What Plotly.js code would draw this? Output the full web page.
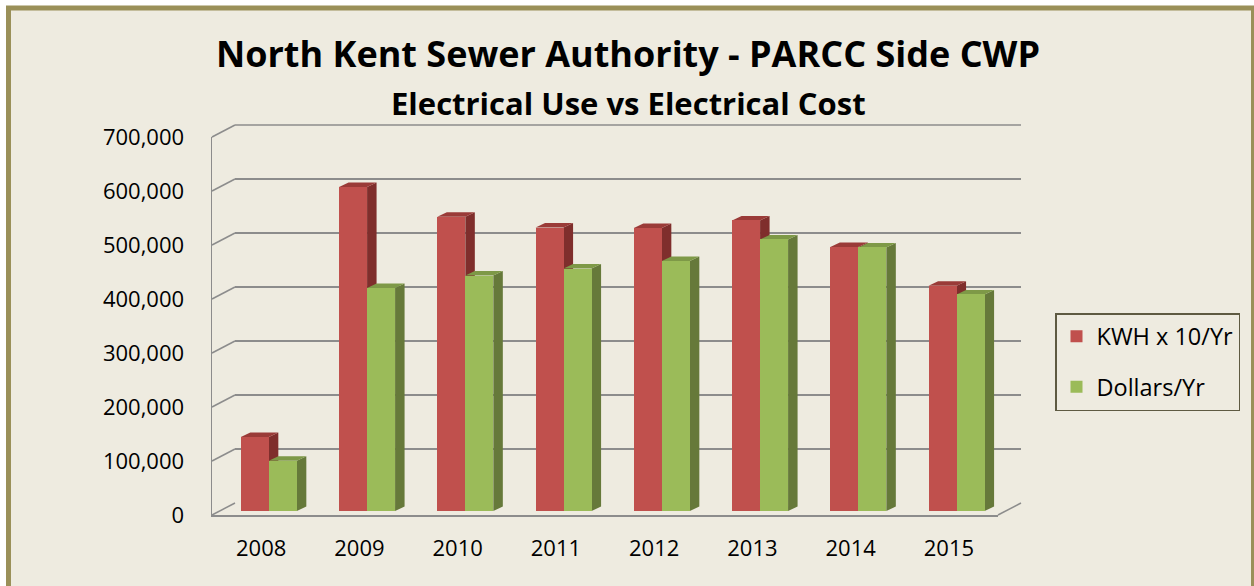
<!DOCTYPE html>
<html><head><meta charset="utf-8">
<script src="https://cdn.plot.ly/plotly-3.0.1.min.js"></script>
<style>html,body{margin:0;padding:0;background:#fff}</style>
</head><body><div id="chart" style="width:1254px;height:586px"></div>
<script>
// ---- data ----
const years = ['2008','2009','2010','2011','2012','2013','2014','2015'];
const kwhX10 = [137000, 600000, 545000, 525000, 524000, 538000, 489000, 417000];
const dollars = [93000, 413000, 436000, 449000, 463000, 503000, 488000, 401000];
const yTicks = [0,100000,200000,300000,400000,500000,600000,700000];
const seriesNames = ['KWH x 10/Yr','Dollars/Yr'];

// ---- geometry / style ----
const W=1254, H=586, L=212, R=233, T=125, B=71;
const PW=W-L-R, PH=H-T-B;
const depthX=23, depthY=12;
const frontW=PW-depthX, frontH=PH-depthY;
const barShiftX=7.7, barShiftY=4;
const yMax=700000;
const idx = years.map((_,i)=>i);
const unitX = years.length/frontW, unitY = yMax/frontH;
const barW = 0.285;
const sideDX = 9.5*unitX, sideDY = 4.5*unitY;
const grid='#8c8c8c';
const colors = {front:['#C0504D','#9BBB59'], side:['#7F2E2C','#66793A'], top:['#9A3B38','#7E9947']};
const txtFont = 'Open Sans, sans-serif';
const ttlFont = 'Open Sans, sans-serif';

const series=[kwhX10, dollars];
const shapes=[];
// frame
shapes.push({type:'rect', xref:'paper', yref:'paper', layer:'below',
  x0:(8.5-L)/PW, x1:(1253.5-L)/PW, y0:(H-B-620)/PH, y1:(H-B-8)/PH,
  fillcolor:'#EEEBE0', line:{color:'#9A9059', width:5}});
// wall diagonals
const fy = t => (t/yMax)*frontH/PH;
yTicks.forEach(t=>{
  shapes.push({type:'line', xref:'paper', yref:'paper', layer:'below',
    x0:0, y0:fy(t), x1:depthX/PW, y1:depthY/PH+fy(t), line:{color:grid, width:1.5}});
});
shapes.push({type:'line', xref:'paper', yref:'paper', layer:'below',
  x0:frontW/PW, y0:0, x1:1, y1:depthY/PH, line:{color:grid, width:1.5}});
// top edge of back wall
shapes.push({type:'line', xref:'paper', yref:'paper', layer:'below',
  x0:depthX/PW, y0:1, x1:1, y1:1, line:{color:grid, width:1.5}});
// bar side and top faces
series.forEach((vals,s)=>{
  const off = s===0 ? -barW : 0;
  vals.forEach((v,i)=>{
    const x0=i+off, x1=x0+barW;
    shapes.push({type:'path', xref:'x3', yref:'y3', layer:'between', line:{width:0}, fillcolor:colors.side[s],
      path:`M${x1},0 L${x1+sideDX},${sideDY} L${x1+sideDX},${v+sideDY} L${x1},${v} Z`});
    shapes.push({type:'path', xref:'x3', yref:'y3', layer:'between', line:{width:0}, fillcolor:colors.top[s],
      path:`M${x0},${v} L${x1},${v} L${x1+sideDX},${v+sideDY} L${x0+sideDX},${v+sideDY} Z`});
  });
});

const traces = [
  {type:'scatter', x:[], y:[], xaxis:'x', yaxis:'y', showlegend:false, hoverinfo:'skip'},
  {type:'scatter', x:[], y:[], xaxis:'x2', yaxis:'y2', showlegend:false, hoverinfo:'skip'},
  {type:'bar', name:seriesNames[0], x:idx, y:kwhX10, xaxis:'x3', yaxis:'y3', width:barW, offset:-barW,
   marker:{color:colors.front[0], line:{width:0}}, legendgroup:'a'},
  {type:'bar', name:seriesNames[1], x:idx, y:dollars, xaxis:'x3', yaxis:'y3', width:barW, offset:0,
   marker:{color:colors.front[1], line:{width:0}}, legendgroup:'b'}
];

const hidden = {showticklabels:false, showgrid:false, zeroline:false, showline:false, ticks:''};
const layout = {
  width:W, height:H, margin:{l:L, r:R, t:T, b:B, pad:0},
  paper_bgcolor:'#ffffff', plot_bgcolor:'rgba(0,0,0,0)',
  font:{family:txtFont, size:22, color:'#000'},
  title:{text:'North Kent Sewer Authority - PARCC Side CWP',
    font:{family:ttlFont, size:36, color:'#000', weight:'bold'},
    xref:'container', x:628/W, xanchor:'center', yref:'container', y:1-54/H, yanchor:'middle'},
  annotations:[{text:'Electrical Use vs Electrical Cost', xref:'paper', yref:'paper',
    x:(628-L)/PW, y:(H-B-103)/PH, xanchor:'center', yanchor:'middle', showarrow:false,
    font:{family:ttlFont, size:31, color:'#000', weight:'bold'}}],
  showlegend:true,
  legend:{x:(1055-L)/PW, xanchor:'left', y:(H-B-313)/PH, yanchor:'top',
    bgcolor:'#EEEBE0', bordercolor:'#5E5A42', borderwidth:1.5, tracegroupgap:17,
    traceorder:'grouped',
    font:{family:txtFont, size:23.5, color:'#000'}},
  xaxis:{domain:[0, frontW/PW], anchor:'y', range:[-0.5, years.length-0.5], tickvals:idx, ticktext:years,
    showline:true, linecolor:grid, linewidth:1.5, showgrid:false, zeroline:false, ticks:'',
    ticklabelstandoff:13, tickfont:{size:22}, fixedrange:true},
  yaxis:{domain:[0, frontH/PH], anchor:'x', range:[0,yMax], tickvals:yTicks, tickformat:',',
    showline:true, linecolor:grid, linewidth:1.5, showgrid:false, zeroline:false, ticks:'',
    ticklabelstandoff:22, tickfont:{size:22}, fixedrange:true},
  xaxis2:Object.assign({domain:[depthX/PW, 1], anchor:'y2', range:[-0.5, years.length-0.5]}, hidden),
  yaxis2:Object.assign({}, hidden, {domain:[depthY/PH, 1], anchor:'x2', range:[0,yMax], tickvals:yTicks,
    showgrid:true, gridcolor:grid, gridwidth:1.5}),
  xaxis3:Object.assign({domain:[barShiftX/PW, (barShiftX+frontW)/PW], anchor:'y3', range:[-0.5, years.length-0.5]}, hidden),
  yaxis3:Object.assign({domain:[barShiftY/PH, (barShiftY+frontH)/PH], anchor:'x3', range:[0,yMax]}, hidden),
  shapes:shapes,
  bargap:0
};
Plotly.newPlot('chart', traces, layout, {displayModeBar:false, staticPlot:true});
</script></body></html>
